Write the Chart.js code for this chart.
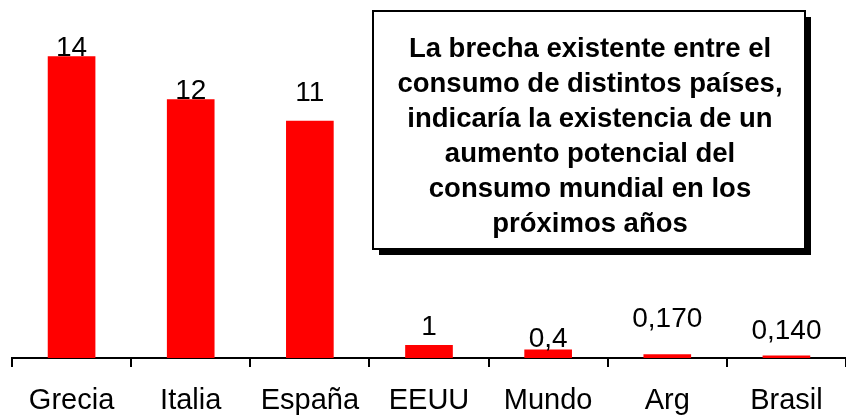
<!DOCTYPE html>
<html>
<head>
<meta charset="utf-8">
<script src="https://cdn.jsdelivr.net/npm/chart.js@4"></script>
<style>
  html, body { margin: 0; padding: 0; background: #fff; }
  #wrap { width: 846px; height: 416px; position: relative; }
</style>
</head>
<body>
<div id="wrap"><canvas id="consumoChart"></canvas></div>
<script>
const countries = ['Grecia', 'Italia', 'España', 'EEUU', 'Mundo', 'Arg', 'Brasil'];
const consumo = [14, 12, 11, 0.6, 0.4, 0.17, 0.12];
const consumoLabels = ['14', '12', '11', '1', '0,4', '0,170', '0,140'];
const noteLines = [
    'La brecha existente entre el',
    'consumo de distintos países,',
    'indicaría la existencia de un',
    'aumento potencial del',
    'consumo mundial en los',
    'próximos años'
];

// how far above each bar its label sits (px), as in the original
const labelLift = [0, 0, 20, 10, 2, 27, 16];
const FONT = '"Liberation Sans", Arial, sans-serif';

const valueLabels = {
    id: 'valueLabels',
    afterDatasetsDraw(chart) {
        const ctx = chart.ctx;
        const meta = chart.getDatasetMeta(0);
        ctx.save();
        ctx.font = '28px ' + FONT;
        ctx.fillStyle = '#000';
        ctx.textAlign = 'center';
        ctx.textBaseline = 'alphabetic';
        meta.data.forEach((bar, i) => {
            ctx.fillText(consumoLabels[i], bar.x, bar.y - labelLift[i]);
        });
        ctx.restore();
    }
};

const noteBox = {
    id: 'noteBox',
    afterDraw(chart) {
        const ctx = chart.ctx;
        const x = 373, y = 11, w = 432, h = 238;
        ctx.save();
        ctx.fillStyle = '#000';
        ctx.fillRect(x + 6, y + 6, w, h);
        ctx.fillStyle = '#fff';
        ctx.fillRect(x, y, w, h);
        ctx.strokeStyle = '#000';
        ctx.lineWidth = 2;
        ctx.strokeRect(x, y, w, h);
        ctx.font = 'bold 27.5px ' + FONT;
        ctx.fillStyle = '#000';
        ctx.textAlign = 'center';
        ctx.textBaseline = 'alphabetic';
        noteLines.forEach((line, i) => {
            ctx.fillText(line, x + w / 2 + 1, 57 + i * 35);
        });
        ctx.restore();
    }
};

new Chart(document.getElementById('consumoChart').getContext('2d'), {
    type: 'bar',
    data: {
        labels: countries,
        datasets: [{
            data: consumo,
            backgroundColor: '#FF0000',
            borderWidth: 0,
            barPercentage: 0.4,
            categoryPercentage: 1
        }]
    },
    options: {
        responsive: true,
        maintainAspectRatio: false,
        animation: false,
        layout: { padding: { left: 12, top: 13, right: 0, bottom: 0 } },
        plugins: { legend: { display: false }, tooltip: { enabled: false } },
        scales: {
            x: {
                offset: true,
                grid: {
                    offset: true,
                    drawOnChartArea: false,
                    drawTicks: true,
                    tickLength: 9,
                    color: '#000',
                    lineWidth: 2
                },
                border: { display: true, color: '#000', width: 2 },
                ticks: {
                    color: '#000',
                    font: { family: FONT, size: 29 },
                    padding: 17,
                    maxRotation: 0,
                    autoSkip: false
                },
                afterFit(scale) { scale.height = 58; }
            },
            y: {
                display: false,
                min: 0,
                max: 16
            }
        }
    },
    plugins: [valueLabels, noteBox]
});
</script>
</body>
</html>
